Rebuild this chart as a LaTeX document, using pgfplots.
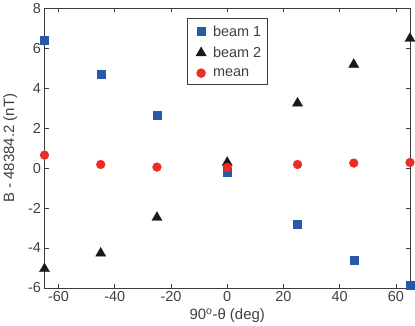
\documentclass[border=0pt]{standalone}
\usepackage{pgfplots}
\pgfplotsset{compat=1.18}
\usepackage{fontspec}
\setmainfont{Liberation Sans}
\definecolor{txtgray}{RGB}{64,64,64}
\definecolor{axgray}{RGB}{60,60,60}
\definecolor{b1blue}{RGB}{42,88,168}
\definecolor{mred}{RGB}{235,45,40}
\pgfplotsset{mylegend/.style={legend image code/.code={%
    \path (0cm,0cm) (0.68cm,0cm); \draw[##1] plot coordinates {(0.34cm,0cm)};}}}
\begin{document}
\begin{tikzpicture}
\begin{axis}[
    width=365bp, height=279bp,
    scale only axis,
    xmin=-65, xmax=65,
    ymin=-6, ymax=8,
    xtick={-60,-40,...,60},
    ytick={-6,-4,...,8},
    tick align=inside,
    tick pos=both,
    major tick length=4bp,
    axis line style={axgray, line width=0.6pt},
    every tick/.style={axgray, line width=0.6pt},
    tick label style={font=\fontsize{14.5}{16}\selectfont, txtgray},
    label style={font=\fontsize{15}{17}\selectfont, txtgray},
    /pgf/number format/assume math mode=true,
    xlabel={90\textsuperscript{o}-θ (deg)},
    ylabel={B - 48384.2 (nT)},
    xlabel style={yshift=0bp},
    ylabel style={yshift=4bp},
    legend style={at={(0.5,0.965)}, anchor=north,
        draw=axgray, line width=0.6pt,
        font=\fontsize{14.5}{16}\selectfont, text=txtgray,
        row sep=5.5bp, inner xsep=4bp, inner ysep=5bp},
    legend cell align=left,
]
\addplot[only marks, mark=square*, mark size=4.0bp, color=b1blue, mylegend] coordinates {
    (-65,6.42) (-45,4.71) (-25,2.64) (0,-0.2) (25,-2.81) (45,-4.62) (65,-5.88)
};
\addlegendentry{beam 1}
\addplot[only marks, mark=triangle*, mark size=5.8bp, color=black!90, mylegend] coordinates {
    (-65,-5.05) (-45,-4.27) (-25,-2.48) (0,0.28) (25,3.25) (45,5.19) (65,6.49)
};
\addlegendentry{beam 2}
\addplot[only marks, mark=*, mark size=4.4bp, color=mred, mylegend] coordinates {
    (-65,0.65) (-45,0.18) (-25,0.05) (0,0.03) (25,0.18) (45,0.25) (65,0.28)
};
\addlegendentry{mean}
\end{axis}
\end{tikzpicture}
\end{document}
